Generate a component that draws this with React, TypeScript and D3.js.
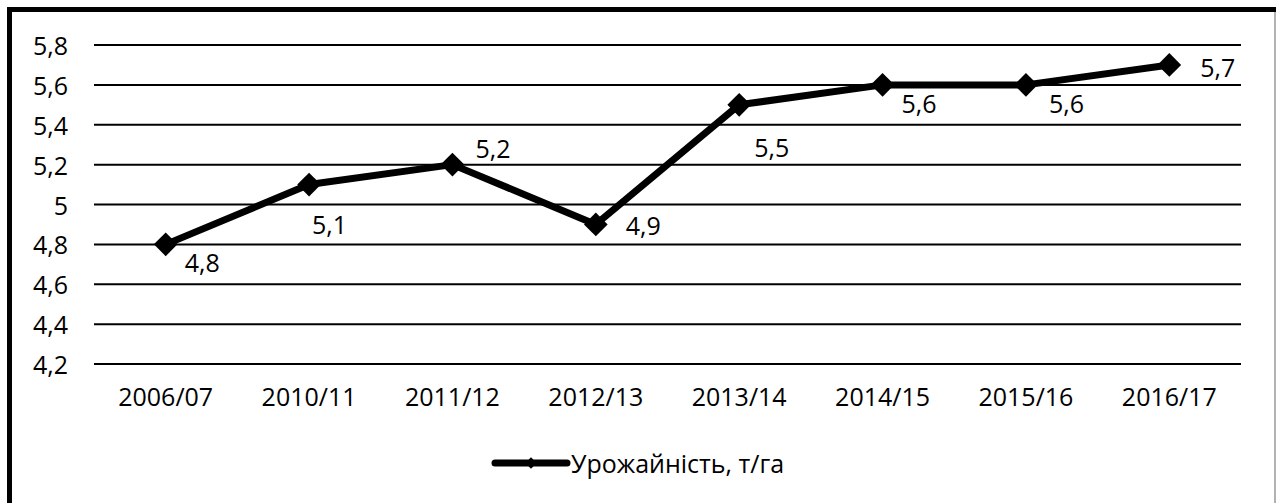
import { scaleBand, scaleLinear, line, range, symbol, symbolSquare } from "d3";

const seasons = [
  "2006/07",
  "2010/11",
  "2011/12",
  "2012/13",
  "2013/14",
  "2014/15",
  "2015/16",
  "2016/17",
];
const yieldValues = [4.8, 5.1, 5.2, 4.9, 5.5, 5.6, 5.6, 5.7];
const seriesName = "Урожайність, т/га";
const yTicks = range(4.2, 5.81, 0.2).map((v) => Math.round(v * 10) / 10);

// label offsets from each marker, Excel put them here and there
const labelOffsets: [number, number][] = [
  [19, 18],
  [3, 39],
  [23, -17],
  [30, 1],
  [15, 42],
  [19, 18],
  [23, 18],
  [31, 2],
];

const fmt = (v: number) => (Number.isInteger(v) ? String(v) : v.toFixed(1).replace(".", ","));

export default function App() {
  const width = 1277;
  const height = 503;
  const plot = { left: 94, right: 1241, top: 45, bottom: 364 };
  const font = "'Open Sans', 'DejaVu Sans', sans-serif";
  const fs = 25;

  const x = scaleBand<string>().domain(seasons).range([plot.left, plot.right]);
  const y = scaleLinear().domain([4.2, 5.8]).range([plot.bottom, plot.top]);
  const cx = (s: string) => (x(s) ?? 0) + x.bandwidth() / 2;

  const points = seasons.map((s, i) => ({ s, v: yieldValues[i] }));
  const path =
    line<{ s: string; v: number }>()
      .x((d) => cx(d.s))
      .y((d) => y(d.v))(points) ?? "";
  // square turned 45deg, as Excel's diamond marker
  const diamond = symbol(symbolSquare, 280)() ?? "";
  const smallDiamond = symbol(symbolSquare, 64)() ?? "";

  return (
    <svg
      width={width}
      height={height}
      style={{ position: "absolute", left: 0, top: 0, background: "#fff" }}
      fontFamily={font}
    >
      <line x1={1275} x2={1275} y1={7} y2={height} stroke="#999" strokeWidth={1.5} />
      <line x1={9.5} x2={9.5} y1={7} y2={height} stroke="#000" strokeWidth={5} />
      <line x1={7} x2={1276} y1={9.5} y2={9.5} stroke="#000" strokeWidth={5} />

      <g>
        {yTicks.map((t) => (
          <g key={t}>
            <line x1={plot.left} x2={plot.right} y1={y(t)} y2={y(t)} stroke="#000" strokeWidth={2} />
            <text x={68} y={y(t)} textAnchor="end" dominantBaseline="central" fontSize={fs}>
              {fmt(t)}
            </text>
          </g>
        ))}
      </g>

      <g>
        {seasons.map((s) => (
          <text
            key={s}
            x={cx(s)}
            y={396}
            textAnchor="middle"
            dominantBaseline="central"
            fontSize={fs}
          >
            {s}
          </text>
        ))}
      </g>

      <path d={path} fill="none" stroke="#000" strokeWidth={7} strokeLinejoin="round" />
      {points.map((p, i) => (
        <g key={p.s}>
          <path d={diamond} transform={`translate(${cx(p.s)},${y(p.v)}) rotate(45)`} fill="#000" />
          <text
            x={cx(p.s) + labelOffsets[i][0]}
            y={y(p.v) + labelOffsets[i][1]}
            dominantBaseline="central"
            fontSize={fs}
          >
            {fmt(p.v)}
          </text>
        </g>
      ))}

      <g transform="translate(495,463)">
        <line x1={0} x2={72} y1={0} y2={0} stroke="#000" strokeWidth={7} strokeLinecap="round" />
        <path d={smallDiamond} transform="translate(36,0) rotate(45)" fill="#000" />
        <text x={76} y={0} dominantBaseline="central" fontSize={fs}>
          {seriesName}
        </text>
      </g>
    </svg>
  );
}
